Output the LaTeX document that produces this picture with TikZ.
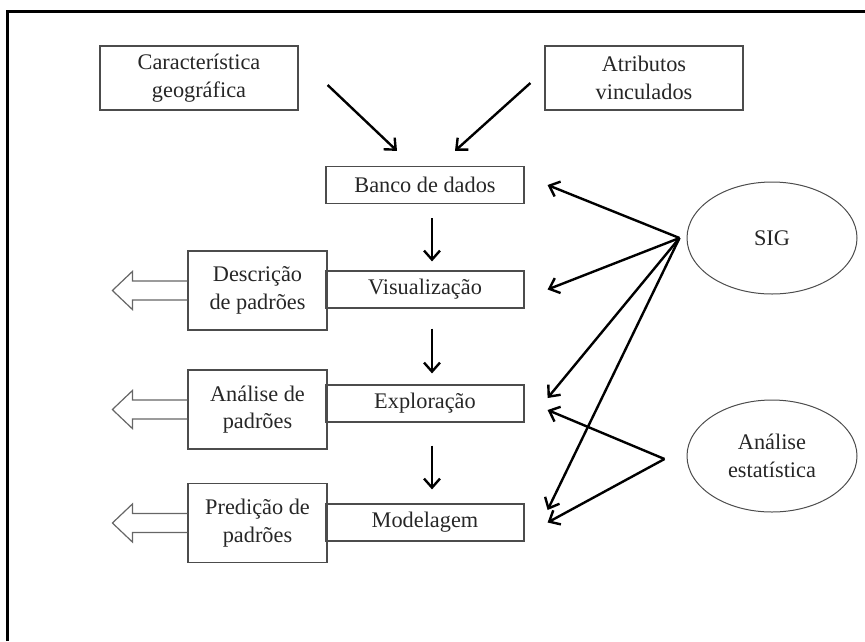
\documentclass[tikz,border=0pt]{standalone}
\usepackage{fontspec}
\setmainfont{Liberation Serif}
\usetikzlibrary{shapes.geometric,arrows.meta}
\begin{document}
\begin{tikzpicture}[x=1pt,y=-1pt,
  font=\fontsize{22.3}{27.5}\selectfont,
  box/.style = {draw=black!70, line width=1.2pt, text=black!85, align=center, inner sep=0pt, minimum width=198pt, minimum height=37pt},
  side/.style = {box, minimum width=139pt, minimum height=79pt},
  blob/.style = {draw=black!70, line width=1pt, ellipse, text=black!85, align=center, inner sep=0pt, minimum width=170pt, minimum height=112pt},
  arr/.style = {line width=2.4pt, -{Straight Barb[length=9pt,width=16pt]}},
  hollow/.style = {draw=black!60, line width=1.2pt, line join=miter}]
\useasboundingbox (0,0) rectangle (865,641);
\draw[line width=3pt] (7.5,641) -- (7.5,11) -- (865,11);
% top inputs
\node[box, minimum height=64pt] (geo) at (199,78) {Característica\\geográfica};
\node[box, minimum height=64pt] (attr) at (644,78) {Atributos\\vinculados};
% main column
\node[box] (banco) at (425,185) {Banco de dados};
\node[box] (visual) at (425,289.5) {Visualização};
\node[box] (explor) at (425,403.5) {Exploração};
\node[box] (model) at (425,522.5) {Modelagem};
% outputs
\node[side] (desc) at (257.5,290.5) {Descrição\\de padrões};
\node[side] (anal) at (257.5,409.5) {Análise de\\padrões};
\node[side] (pred) at (257.5,523) {Predição de\\padrões};
% tools
\node[blob] (sig) at (772,238) {SIG};
\node[blob] (stat) at (772,456) {Análise\\estatística};
\coordinate (sighub) at ([xshift=-7pt]sig.west);
\coordinate (stathub) at ([xshift=-22pt,yshift=-3pt]stat.west);

\draw[arr] ([xshift=29pt,yshift=-7pt]geo.east) -- ([xshift=-28pt,yshift=15pt]banco.north);
\draw[arr] ([xshift=-14pt,yshift=-5pt]attr.west) -- ([xshift=30pt,yshift=15pt]banco.north);
\draw[arr] ([xshift=7pt,yshift=-14pt]banco.south) -- ([xshift=7pt,yshift=9pt]visual.north);
\draw[arr] ([xshift=7pt,yshift=-20pt]visual.south) -- ([xshift=7pt,yshift=11pt]explor.north);
\draw[arr] ([xshift=7pt,yshift=-23pt]explor.south) -- ([xshift=7pt,yshift=14pt]model.north);
\foreach \n/\dy in {banco/0, visual/0, explor/5.5, model/12.5}
  \draw[arr] (sighub) -- ([xshift=23pt,yshift=\dy pt]\n.east);
\foreach \n/\dy in {explor/-6.5, model/0}
  \draw[arr] (stathub) -- ([xshift=23pt,yshift=\dy pt]\n.east);
\foreach \n in {desc, anal, pred}
  \draw[hollow] ([yshift=9.5pt]\n.west) -- ++(-55,0) -- ++(0,-9.5) -- ++(-20,19) -- ++(20,19) -- ++(0,-9.5) -- ++(55,0);
\end{tikzpicture}
\end{document}
